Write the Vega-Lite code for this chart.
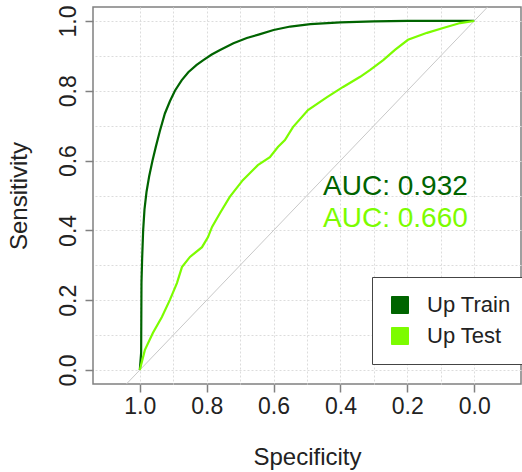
{
  "$schema": "https://vega.github.io/schema/vega-lite/v6.json",
  "width": 428,
  "height": 377,
  "autosize": {"type": "none"},
  "padding": {"left": 93, "top": 7, "right": 1, "bottom": 88},
  "background": "white",
  "config": {
    "font": "Liberation Sans",
    "view": {"stroke": "#808080", "strokeWidth": 1.5}
  },
  "datasets": {
    "roc": [
      {"series": "Up Train", "i": 0, "spec": 1.0, "sens": 0.0},
      {"series": "Up Train", "i": 1, "spec": 0.996, "sens": 0.05},
      {"series": "Up Train", "i": 2, "spec": 0.995, "sens": 0.25},
      {"series": "Up Train", "i": 3, "spec": 0.993, "sens": 0.32},
      {"series": "Up Train", "i": 4, "spec": 0.99, "sens": 0.4},
      {"series": "Up Train", "i": 5, "spec": 0.986, "sens": 0.46},
      {"series": "Up Train", "i": 6, "spec": 0.98, "sens": 0.51},
      {"series": "Up Train", "i": 7, "spec": 0.972, "sens": 0.555},
      {"series": "Up Train", "i": 8, "spec": 0.962, "sens": 0.6},
      {"series": "Up Train", "i": 9, "spec": 0.952, "sens": 0.64},
      {"series": "Up Train", "i": 10, "spec": 0.94, "sens": 0.685},
      {"series": "Up Train", "i": 11, "spec": 0.925, "sens": 0.735},
      {"series": "Up Train", "i": 12, "spec": 0.91, "sens": 0.77},
      {"series": "Up Train", "i": 13, "spec": 0.895, "sens": 0.8},
      {"series": "Up Train", "i": 14, "spec": 0.875, "sens": 0.83},
      {"series": "Up Train", "i": 15, "spec": 0.855, "sens": 0.853},
      {"series": "Up Train", "i": 16, "spec": 0.83, "sens": 0.874},
      {"series": "Up Train", "i": 17, "spec": 0.81, "sens": 0.888},
      {"series": "Up Train", "i": 18, "spec": 0.785, "sens": 0.904},
      {"series": "Up Train", "i": 19, "spec": 0.76, "sens": 0.917},
      {"series": "Up Train", "i": 20, "spec": 0.72, "sens": 0.936},
      {"series": "Up Train", "i": 21, "spec": 0.68, "sens": 0.951},
      {"series": "Up Train", "i": 22, "spec": 0.645, "sens": 0.961},
      {"series": "Up Train", "i": 23, "spec": 0.6, "sens": 0.974},
      {"series": "Up Train", "i": 24, "spec": 0.55, "sens": 0.984},
      {"series": "Up Train", "i": 25, "spec": 0.49, "sens": 0.991},
      {"series": "Up Train", "i": 26, "spec": 0.4, "sens": 0.996},
      {"series": "Up Train", "i": 27, "spec": 0.3, "sens": 0.999},
      {"series": "Up Train", "i": 28, "spec": 0.2, "sens": 1.0},
      {"series": "Up Train", "i": 29, "spec": 0.0, "sens": 1.0},
      {"series": "Up Test", "i": 0, "spec": 1.0, "sens": 0.0},
      {"series": "Up Test", "i": 1, "spec": 0.985, "sens": 0.057},
      {"series": "Up Test", "i": 2, "spec": 0.961, "sens": 0.106},
      {"series": "Up Test", "i": 3, "spec": 0.934, "sens": 0.152},
      {"series": "Up Test", "i": 4, "spec": 0.91, "sens": 0.201},
      {"series": "Up Test", "i": 5, "spec": 0.889, "sens": 0.249},
      {"series": "Up Test", "i": 6, "spec": 0.874, "sens": 0.295},
      {"series": "Up Test", "i": 7, "spec": 0.85, "sens": 0.324},
      {"series": "Up Test", "i": 8, "spec": 0.814, "sens": 0.352},
      {"series": "Up Test", "i": 9, "spec": 0.796, "sens": 0.381},
      {"series": "Up Test", "i": 10, "spec": 0.784, "sens": 0.41},
      {"series": "Up Test", "i": 11, "spec": 0.76, "sens": 0.45},
      {"series": "Up Test", "i": 12, "spec": 0.731, "sens": 0.496},
      {"series": "Up Test", "i": 13, "spec": 0.692, "sens": 0.544},
      {"series": "Up Test", "i": 14, "spec": 0.647, "sens": 0.587},
      {"series": "Up Test", "i": 15, "spec": 0.611, "sens": 0.61},
      {"series": "Up Test", "i": 16, "spec": 0.587, "sens": 0.639},
      {"series": "Up Test", "i": 17, "spec": 0.566, "sens": 0.659},
      {"series": "Up Test", "i": 18, "spec": 0.542, "sens": 0.696},
      {"series": "Up Test", "i": 19, "spec": 0.497, "sens": 0.745},
      {"series": "Up Test", "i": 20, "spec": 0.44, "sens": 0.782},
      {"series": "Up Test", "i": 21, "spec": 0.392, "sens": 0.811},
      {"series": "Up Test", "i": 22, "spec": 0.341, "sens": 0.84},
      {"series": "Up Test", "i": 23, "spec": 0.311, "sens": 0.86},
      {"series": "Up Test", "i": 24, "spec": 0.272, "sens": 0.888},
      {"series": "Up Test", "i": 25, "spec": 0.237, "sens": 0.917},
      {"series": "Up Test", "i": 26, "spec": 0.198, "sens": 0.946},
      {"series": "Up Test", "i": 27, "spec": 0.141, "sens": 0.966},
      {"series": "Up Test", "i": 28, "spec": 0.093, "sens": 0.98},
      {"series": "Up Test", "i": 29, "spec": 0.042, "sens": 0.994},
      {"series": "Up Test", "i": 30, "spec": 0.0, "sens": 1.0}
    ],
    "diag": [
      {"i": 0, "spec": 1.2, "sens": -0.2},
      {"i": 1, "spec": -0.2, "sens": 1.2}
    ],
    "auc": [
      {"series": "Up Train", "spec": 0.452, "sens": 0.501, "label": "AUC: 0.932"},
      {"series": "Up Test", "spec": 0.452, "sens": 0.41, "label": "AUC: 0.660"}
    ]
  },
  "encoding": {
    "x": {
      "field": "spec",
      "type": "quantitative",
      "scale": {"domain": [-0.14, 1.14], "reverse": true, "nice": false, "zero": false},
      "axis": {
        "title": "Specificity",
        "values": [0, 0.1, 0.2, 0.3, 0.4, 0.5, 0.6, 0.7, 0.8, 0.9, 1.0],
        "labelExpr": "round(datum.value*10)%2==0 ? format(datum.value, '.1f') : ''",
        "domain": false,
        "grid": true,
        "gridDash": [2, 2],
        "gridColor": "#dcdcdc",
        "gridWidth": 1,
        "tickSize": 8,
        "tickColor": "#808080",
        "tickWidth": 1.5,
        "tickOpacity": {"condition": {"test": "round(datum.value*10)%2==0", "value": 1}, "value": 0},
        "labelFontSize": 23,
        "labelColor": "#222222",
        "labelPadding": 3,
        "labelFlush": false,
        "labelOverlap": false,
        "titleFontSize": 24,
        "titleFontWeight": "normal",
        "titleColor": "#222222",
        "titlePadding": 27
      }
    },
    "y": {
      "field": "sens",
      "type": "quantitative",
      "scale": {"domain": [-0.04, 1.04], "nice": false, "zero": false},
      "axis": {
        "title": "Sensitivity",
        "values": [0, 0.1, 0.2, 0.3, 0.4, 0.5, 0.6, 0.7, 0.8, 0.9, 1.0],
        "labelExpr": "round(datum.value*10)%2==0 ? format(datum.value, '.1f') : ''",
        "domain": false,
        "grid": true,
        "gridDash": [2, 2],
        "gridColor": "#dcdcdc",
        "gridWidth": 1,
        "tickSize": 8,
        "tickColor": "#808080",
        "tickWidth": 1.5,
        "tickOpacity": {"condition": {"test": "round(datum.value*10)%2==0", "value": 1}, "value": 0},
        "labelFontSize": 23,
        "labelColor": "#222222",
        "labelAngle": -90,
        "labelAlign": "center",
        "labelBaseline": "bottom",
        "labelPadding": 5,
        "labelFlush": false,
        "labelOverlap": false,
        "titleFontSize": 24,
        "titleFontWeight": "normal",
        "titleColor": "#222222",
        "titlePadding": 26
      }
    }
  },
  "layer": [
    {
      "data": {"name": "diag"},
      "mark": {"type": "line", "color": "#c8c8c8", "strokeWidth": 1, "clip": true},
      "encoding": {"order": {"field": "i", "type": "quantitative"}}
    },
    {
      "data": {"name": "roc"},
      "mark": {"type": "line", "strokeWidth": 2.2, "clip": true},
      "encoding": {
        "order": {"field": "i", "type": "quantitative"},
        "color": {
          "field": "series",
          "type": "nominal",
          "scale": {"domain": ["Up Train", "Up Test"], "range": ["#006400", "#7CFC00"]},
          "legend": {
            "title": null,
            "orient": "none",
            "legendX": 279,
            "legendY": 270,
            "direction": "vertical",
            "fillColor": "white",
            "strokeColor": "#444444",
            "padding": 17,
            "symbolType": "square",
            "symbolSize": 289,
            "symbolStrokeColor": "#333333",
            "symbolStrokeWidth": 1,
            "labelFontSize": 22,
            "labelColor": "#222222",
            "labelOffset": 16,
            "rowPadding": 9,
            "encode": {
              "symbols": {
                "update": {
                  "fill": {"scale": "color", "field": "value"},
                  "stroke": {"value": "#333333"},
                  "strokeWidth": {"value": 1},
                  "opacity": {"value": 1},
                  "fillOpacity": {"value": 1}
                }
              }
            }
          }
        }
      }
    },
    {
      "data": {"name": "auc"},
      "mark": {"type": "text", "align": "left", "baseline": "alphabetic", "fontSize": 28},
      "encoding": {
        "text": {"field": "label", "type": "nominal"},
        "color": {"field": "series", "type": "nominal"}
      }
    }
  ]
}
